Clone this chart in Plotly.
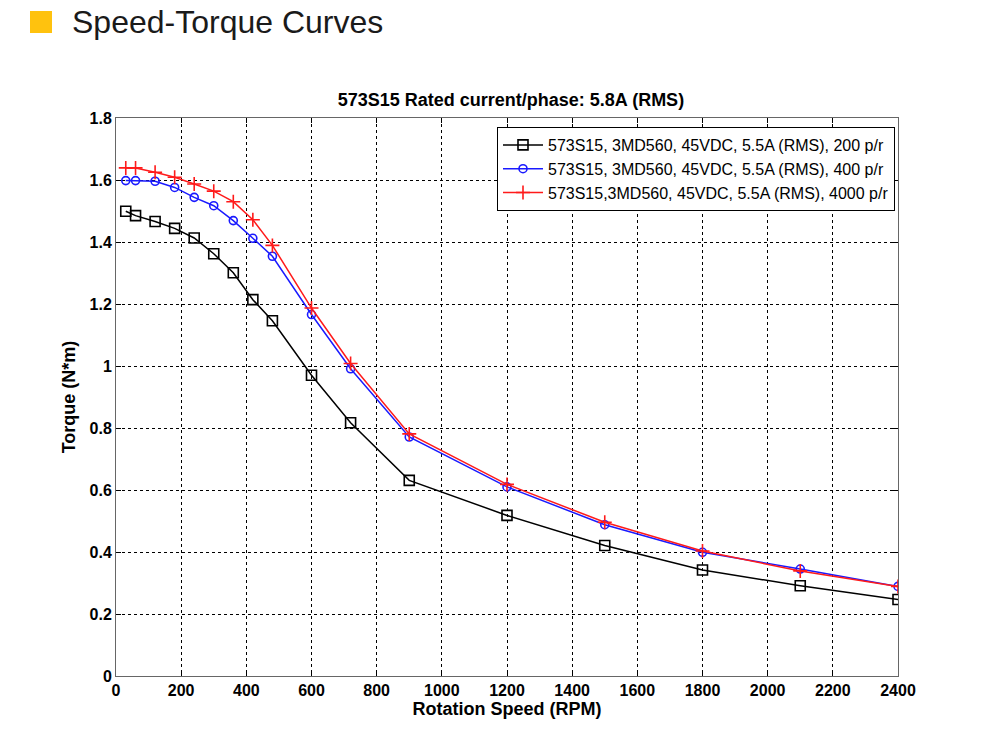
import plotly.graph_objects as go

speed = [30, 60, 120, 180, 240, 300, 360, 420, 480, 600, 720, 900, 1200, 1500, 1800, 2100, 2400]
torque_200 = [1.499, 1.485, 1.466, 1.444, 1.413, 1.362, 1.301, 1.214, 1.146, 0.970, 0.817, 0.631, 0.518, 0.421, 0.342, 0.291, 0.247]
torque_400 = [1.598, 1.598, 1.596, 1.576, 1.544, 1.517, 1.469, 1.412, 1.354, 1.166, 0.991, 0.771, 0.610, 0.488, 0.399, 0.345, 0.289]
torque_4000 = [1.639, 1.639, 1.625, 1.609, 1.587, 1.564, 1.530, 1.472, 1.389, 1.187, 1.008, 0.781, 0.618, 0.496, 0.403, 0.339, 0.289]

names = [
    "573S15, 3MD560, 45VDC, 5.5A (RMS), 200 p/r",
    "573S15, 3MD560, 45VDC, 5.5A (RMS), 400 p/r",
    "573S15,3MD560, 45VDC, 5.5A (RMS), 4000 p/r",
]
x_ticks = list(range(0, 2401, 200))
y_ticks = [0, 0.2, 0.4, 0.6, 0.8, 1.0, 1.2, 1.4, 1.6, 1.8]

FONT = "Liberation Sans, Arial, sans-serif"

fig = go.Figure()
fig.add_trace(go.Scatter(x=speed, y=torque_200, name=names[0], mode="lines+markers",
                         line=dict(color="black", width=1.5),
                         marker=dict(symbol="square-open", size=10, color="black", line=dict(width=1.6))))
fig.add_trace(go.Scatter(x=speed, y=torque_400, name=names[1], mode="lines+markers",
                         line=dict(color="#1a1aff", width=1.5),
                         marker=dict(symbol="circle-open", size=8, color="#1a1aff", line=dict(width=1.6))))
fig.add_trace(go.Scatter(x=speed, y=torque_4000, name=names[2], mode="lines+markers",
                         line=dict(color="#ff1a1a", width=1.5),
                         marker=dict(symbol="cross-thin-open", size=10, color="#ff1a1a", line=dict(width=1.6, color="#ff1a1a"))))

axis_common = dict(
    showgrid=True, gridcolor="black", griddash="dot", gridwidth=1,
    showline=True, linecolor="#666", linewidth=1, mirror="allticks",
    ticks="inside", ticklen=5, tickcolor="black",
    tickfont=dict(family=FONT, size=16, color="black", weight="bold"),
    zeroline=False,
)

fig.update_xaxes(range=[0, 2400], tickvals=x_ticks,
                 title=dict(text="Rotation Speed (RPM)", standoff=4,
                            font=dict(family=FONT, size=18, color="black", weight="bold")),
                 **axis_common)
fig.update_yaxes(range=[0, 1.8], tickvals=y_ticks,
                 title=dict(text="Torque (N*m)", standoff=9,
                            font=dict(family=FONT, size=18, color="black", weight="bold")),
                 **axis_common)

fig.update_layout(
    width=1000, height=749,
    margin=dict(l=116, r=102, t=118, b=73),
    paper_bgcolor="white", plot_bgcolor="white",
    showlegend=True,
    legend=dict(x=(497 - 116) / 782, y=(676 - 127) / 558, xanchor="left", yanchor="top",
                bgcolor="white", bordercolor="black", borderwidth=1,
                font=dict(family=FONT, size=16, color="black"),
                tracegroupgap=0, itemwidth=40),
    title=dict(text="573S15 Rated current/phase: 5.8A (RMS)",
               x=0.505, xanchor="center", xref="paper",
               y=1 - 100 / 749, yanchor="middle", yref="container",
               font=dict(family=FONT, size=18, color="black", weight="bold")),
)

# header
fig.add_shape(type="rect", xref="paper", yref="paper",
              x0=(30 - 116) / 782, x1=(52 - 116) / 782,
              y0=(676 - 33) / 558, y1=(676 - 11) / 558,
              fillcolor="#FFC20E", line=dict(width=0))
fig.add_annotation(text="Speed-Torque Curves", xref="paper", yref="paper",
                   x=(70 - 116) / 782, y=(676 - 22) / 558, xanchor="left", yanchor="middle",
                   showarrow=False, font=dict(family="Liberation Sans, Arial, sans-serif", size=32, color="#1a1a1a"))

fig.write_html("out.html", config={"displayModeBar": False},
               post_script="document.body.style.margin='0';")
